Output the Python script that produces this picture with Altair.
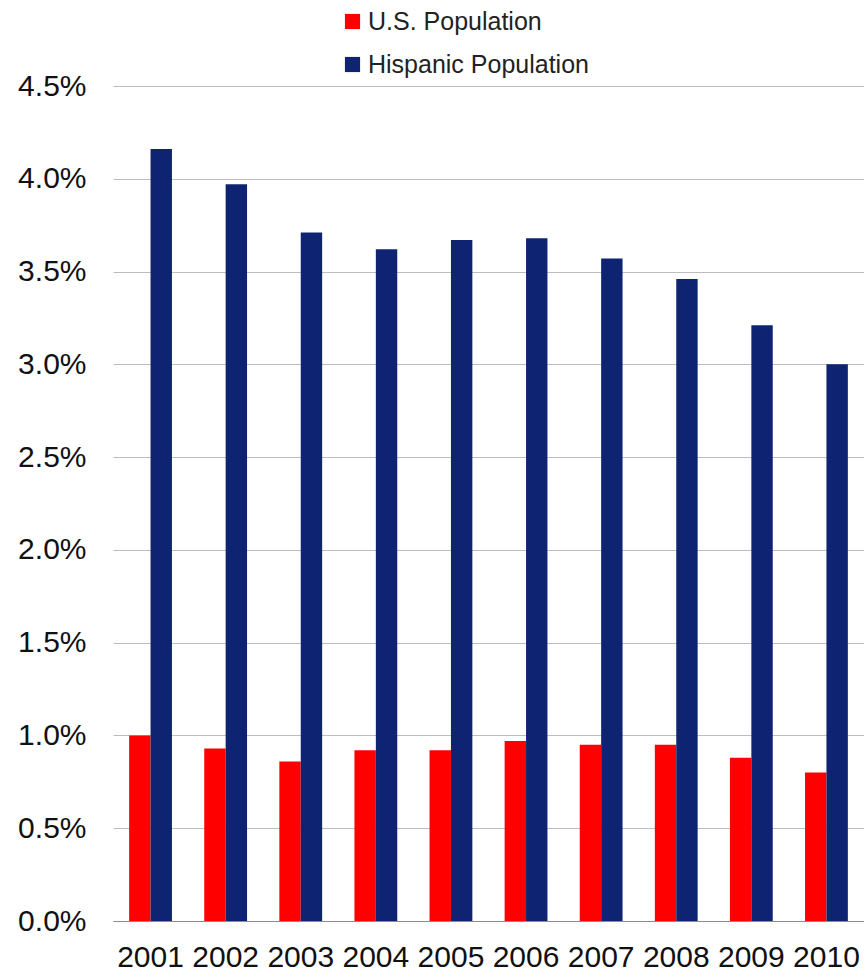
import altair as alt
import pandas as pd

years = ["2001", "2002", "2003", "2004", "2005", "2006", "2007", "2008", "2009", "2010"]
us_pop = [1.00, 0.93, 0.86, 0.92, 0.92, 0.97, 0.95, 0.95, 0.88, 0.80]
hisp_pop = [4.16, 3.97, 3.71, 3.62, 3.67, 3.68, 3.57, 3.46, 3.21, 3.00]
series = ["U.S. Population", "Hispanic Population"]
colors = ["#FF0000", "#0E2472"]

rows = []
for i, y in enumerate(years):
    rows.append({"year": y, "series": series[0], "value": us_pop[i]})
    rows.append({"year": y, "series": series[1], "value": hisp_pop[i]})
df = pd.DataFrame(rows)

font = "Liberation Sans"

chart = alt.Chart(df).mark_bar().encode(
    x=alt.X("year:N", sort=years,
            scale=alt.Scale(paddingInner=0.43, paddingOuter=0.215),
            axis=alt.Axis(title=None, labelAngle=0, ticks=False, labelFontSize=30,
                          labelFont=font, labelColor="#111111", labelPadding=21,
                          domain=True, domainColor="#8c8c8c", grid=False)),
    xOffset=alt.XOffset("series:N", sort=series, scale=alt.Scale(paddingInner=0, paddingOuter=0)),
    y=alt.Y("value:Q", scale=alt.Scale(domain=[0, 4.5], nice=False),
            axis=alt.Axis(title=None, values=[0, 0.5, 1, 1.5, 2, 2.5, 3, 3.5, 4, 4.5],
                          labelExpr="format(datum.value, '.1f') + '%'",
                          labelFontSize=30, labelFont=font, labelColor="#111111",
                          labelPadding=27, ticks=False, domain=False,
                          gridColor="#bdbdbd", gridWidth=1)),
    color=alt.Color("series:N", sort=series,
                    scale=alt.Scale(domain=series, range=colors),
                    legend=alt.Legend(title=None, orient="none", legendX=227, legendY=-77,
                                      symbolType="square", symbolSize=230,
                                      symbolStrokeWidth=0, labelFontSize=25,
                                      labelFont=font, labelColor="#222222",
                                      labelLimit=0,
                                      labelOffset=3, rowPadding=17, padding=0,
                                      direction="vertical")),
).properties(
    width=751, height=835,
    background="white",
    autosize=alt.AutoSizeParams(type="none"),
    padding={"left": 113, "top": 86, "right": 0, "bottom": 53},
).configure_view(
    strokeWidth=0
)

chart.save("out.html", embed_options={"renderer": "svg", "actions": False})
